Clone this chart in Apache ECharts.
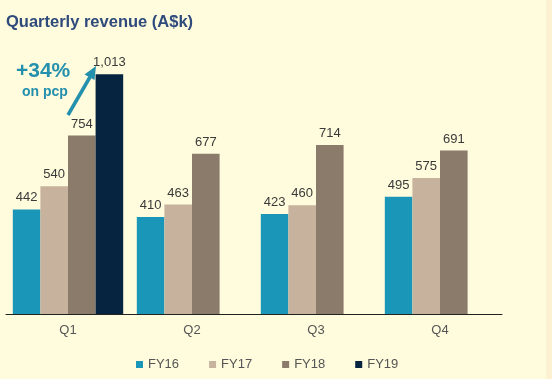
<!DOCTYPE html>
<html><head><meta charset="utf-8">
<script src="https://cdn.jsdelivr.net/npm/echarts@6/dist/echarts.min.js"></script>
<style>html,body{margin:0;padding:0;background:#FFFBDD;}#c{width:552px;height:379px;}</style>
</head><body><div id="c"></div>
<script>
const categories = ['Q1','Q2','Q3','Q4'];
const fy16 = [442, 410, 423, 495];
const fy17 = [540, 463, 460, 575];
const fy18 = [754, 677, 714, 691];
const fy19 = [1013, null, null, null];
const seriesNames = ['FY16','FY17','FY18','FY19'];
const seriesColors = ['#1A96B8','#C7B39D','#8A7B6B','#06233F'];
const seriesData = [fy16, fy17, fy18, fy19];

const chart = echarts.init(document.getElementById('c'), null, {renderer:'canvas'});
const fmt = p => p.value == null ? '' : p.value.toLocaleString('en-US');
chart.setOption({
  backgroundColor: '#FFFBDD',
  animation: false,
  title: {
    text: 'Quarterly revenue (A$k)', left: 1, top: 9,
    textStyle: {fontFamily: 'Liberation Sans, Arial', fontSize: 16.5, fontWeight: 'bold', color: '#2F4B7C'}
  },
  legend: {
    data: seriesNames, left: 131, top: 353, itemWidth: 7, itemHeight: 7, itemGap: 30,
    icon: 'rect',
    textStyle: {fontFamily: 'Liberation Sans, Arial', fontSize: 13, color: '#555555'}
  },
  grid: {left: 6, right: 50, top: 30, bottom: 65, containLabel: false},
  xAxis: {
    type: 'category', data: categories,
    axisLine: {lineStyle: {color: '#222222', width: 1}},
    axisTick: {show: false},
    axisLabel: {fontFamily: 'Liberation Sans, Arial', fontSize: 13, color: '#555555', margin: 10}
  },
  yAxis: {type: 'value', min: 0, max: 1200, show: false, splitLine: {show: false}},
  series: seriesData.map((d, i) => ({
    name: seriesNames[i], type: 'bar', data: d,
    barGap: '0%', barCategoryGap: '11%',
    itemStyle: {color: seriesColors[i]},
    label: {show: true, position: 'top', distance: 5, formatter: fmt,
      fontFamily: 'Liberation Sans, Arial', fontSize: 13, color: '#3A3A3A'}
  })),
  graphic: [
    {type: 'rect', shape: {x: 546, y: 0, width: 6, height: 379}, style: {fill: '#FCF2D2'}, silent: true},
    {type: 'text', left: 16, top: 61, style: {text: '+34%', font: 'bold 21px Liberation Sans, Arial', fill: '#2390AE'}},
    {type: 'text', left: 22, top: 85, style: {text: 'on pcp', font: 'bold 14px Liberation Sans, Arial', fill: '#2390AE'}},
    {type: 'line', shape: {x1: 68, y1: 115, x2: 90, y2: 77}, style: {stroke: '#2390AE', lineWidth: 3.5}},
    {type: 'polygon', shape: {points: [[96, 66], [94.5, 80], [84.5, 74.5]]}, style: {fill: '#2390AE'}}
  ]
});
</script></body></html>
